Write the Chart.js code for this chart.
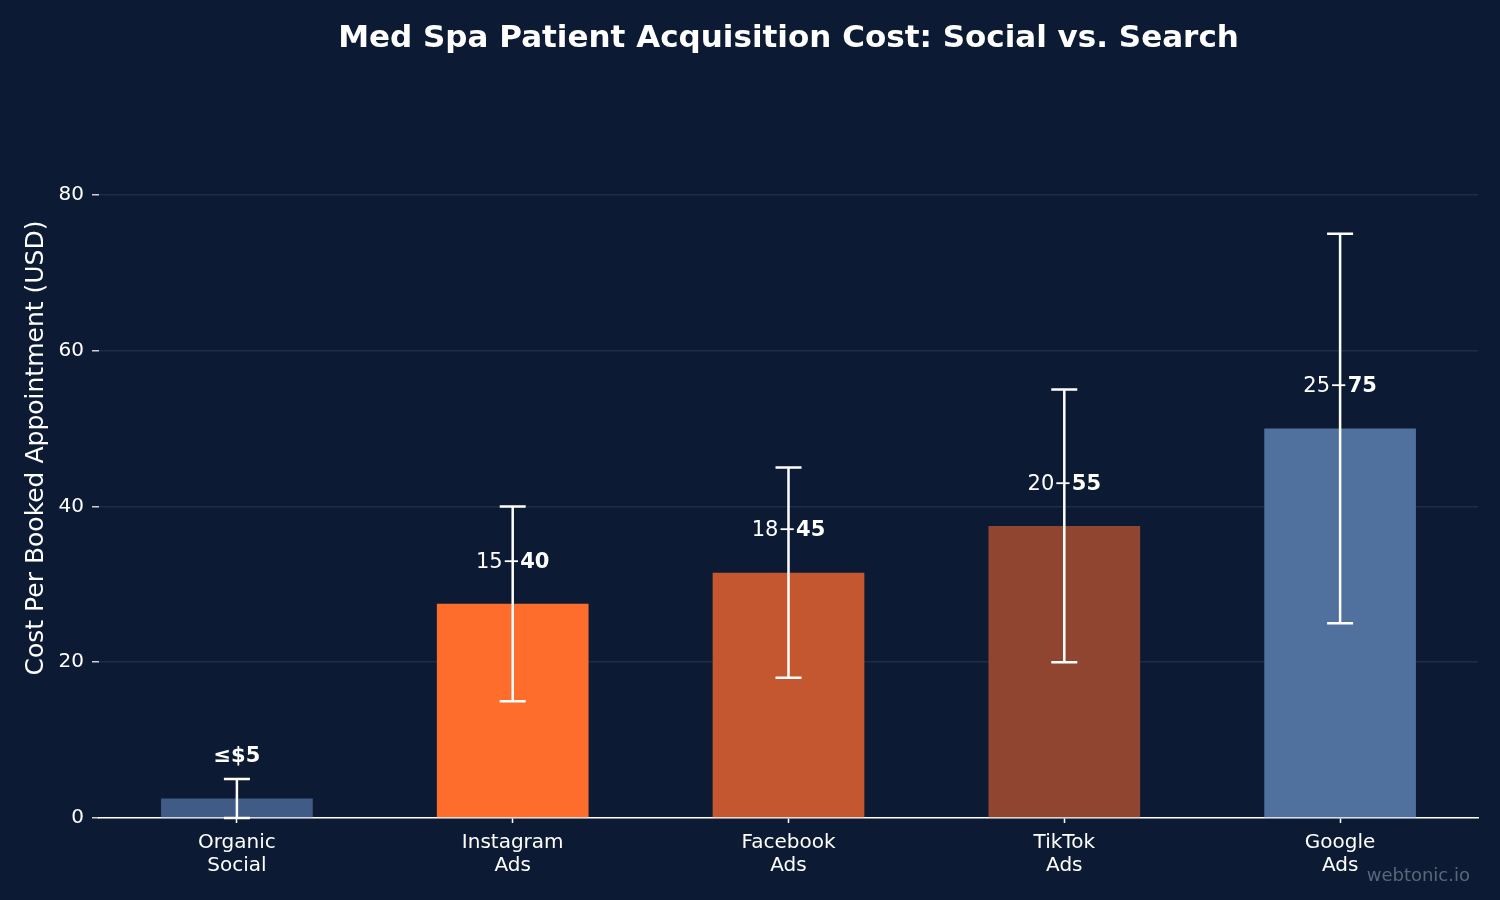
<!DOCTYPE html>
<html>
<head>
<meta charset="utf-8">
<script src="https://cdn.jsdelivr.net/npm/chart.js@4"></script>
<style>
  html, body { margin: 0; padding: 0; background: #0c1b33; }
  #wrap { width: 1500px; height: 900px; }
</style>
</head>
<body>
<div id="wrap"><canvas id="cpaChart" width="1500" height="900"></canvas></div>
<script>
// channel data (cost per booked appointment, USD)
var channels = [["Organic", "Social"], ["Instagram", "Ads"], ["Facebook", "Ads"], ["TikTok", "Ads"], ["Google", "Ads"]];
var lowCost = [0, 15, 18, 20, 25];
var highCost = [5, 40, 45, 55, 75];
var barValue = [2.5, 27.5, 31.5, 37.5, 50];
var yTicks = [0, 20, 40, 60, 80];

var chartTitle = "Med Spa Patient Acquisition Cost: Social vs. Search";
var barColors = ["#405c86", "#ff6d2d", "#c4572f", "#8f4530", "#50709e"];
var bgColor = "#0c1b33";
var font = "'DejaVu Sans', sans-serif";

// error bars + range labels drawn over the bars
var rangePlugin = {
    id: "rangePlugin",
    afterDatasetsDraw: function (chart) {
        var ctx = chart.ctx;
        var xs = chart.scales.x;
        var ys = chart.scales.y;
        ctx.save();
        ctx.strokeStyle = "#ffffff";
        ctx.lineWidth = 2.5;
        for (var i = 0; i < barValue.length; i++) {
            var x = xs.getPixelForValue(i);
            var yLo = ys.getPixelForValue(lowCost[i]);
            var yHi = ys.getPixelForValue(highCost[i]);
            ctx.beginPath();
            ctx.moveTo(x, yLo);
            ctx.lineTo(x, yHi);
            ctx.moveTo(x - 13, yLo);
            ctx.lineTo(x + 13, yLo);
            ctx.moveTo(x - 13, yHi);
            ctx.lineTo(x + 13, yHi);
            ctx.stroke();

            // label sits a bit above the bar top
            var ly = ys.getPixelForValue(barValue[i] + 4) - 5;
            ctx.fillStyle = "#ffffff";
            ctx.textBaseline = "alphabetic";
            ctx.textAlign = "left";
            if (lowCost[i] === 0) {
                ctx.font = "bold 21px " + font;
                var t = "\u2264$" + highCost[i];
                var w = ctx.measureText(t).width;
                ctx.fillText(t, x - w / 2, ly);
            } else {
                var a = lowCost[i] + "\u2212";
                var b = "" + highCost[i];
                ctx.font = "21px " + font;
                var wa = ctx.measureText(a).width;
                ctx.font = "bold 21px " + font;
                var wb = ctx.measureText(b).width;
                var sx = x - (wa + wb) / 2;
                ctx.font = "21px " + font;
                ctx.fillText(a, sx, ly);
                ctx.font = "bold 21px " + font;
                ctx.fillText(b, sx + wa, ly);
            }
        }
        ctx.restore();
    },
    afterDraw: function (chart) {
        var ctx = chart.ctx;
        var area = chart.chartArea;
        ctx.save();
        // title centred over the plot area
        ctx.font = "bold 31px " + font;
        ctx.fillStyle = "#ffffff";
        ctx.textAlign = "center";
        ctx.textBaseline = "alphabetic";
        ctx.fillText(chartTitle, (area.left + area.right) / 2, 47);

        ctx.font = "18px " + font;
        ctx.fillStyle = "#5c6679";
        ctx.textAlign = "right";
        ctx.fillText("webtonic.io", 1470, 881);
        ctx.restore();
    }
};

var bgPlugin = {
    id: "bgPlugin",
    beforeDraw: function (chart) {
        var ctx = chart.ctx;
        ctx.save();
        ctx.fillStyle = bgColor;
        ctx.fillRect(0, 0, chart.width, chart.height);
        ctx.restore();
    }
};

function barChart(context) {
    return new Chart(context, {
        type: "bar",
        data: {
            labels: channels,
            datasets: [
                {
                    data: barValue,
                    backgroundColor: barColors,
                    barPercentage: 0.55,
                    categoryPercentage: 1.0
                }
            ]
        },
        options: {
            responsive: false,
            animation: false,
            devicePixelRatio: 1,
            layout: { padding: { left: 0, right: 22, top: 78, bottom: 0 } },
            plugins: {
                legend: { display: false },
                tooltip: { enabled: false },
                title: { display: false }
            },
            scales: {
                x: {
                    grid: {
                        display: true,
                        drawOnChartArea: false,
                        offset: false,
                        tickLength: 5,
                        tickColor: "#ffffff",
                        tickWidth: 1.5
                    },
                    border: { display: true, color: "#ffffff", width: 1.5 },
                    ticks: {
                        color: "#ffffff",
                        font: { family: font, size: 20, lineHeight: 1.15 },
                        padding: 8,
                        maxRotation: 0
                    },
                    afterFit: function (scale) { scale.height = 82; }
                },
                y: {
                    min: 0,
                    max: 95,
                    afterBuildTicks: function (scale) {
                        scale.ticks = yTicks.map(function (v) { return { value: v }; });
                    },
                    grid: {
                        color: function (c) { return c.tick && c.tick.value === 0 ? "rgba(0,0,0,0)" : "#1e2d45"; },
                        lineWidth: 1.5,
                        tickLength: 7,
                        tickColor: "#d0d0d0",
                        tickWidth: 1.5
                    },
                    border: { display: false },
                    ticks: {
                        color: "#ffffff",
                        font: { family: font, size: 20 },
                        padding: 8
                    },
                    title: {
                        display: true,
                        text: "Cost Per Booked Appointment (USD)",
                        color: "#ffffff",
                        font: { family: font, size: 25 },
                        padding: { top: 21, bottom: 0 }
                    },
                    afterFit: function (scale) { scale.width = 99; }
                }
            }
        },
        plugins: [bgPlugin, rangePlugin]
    });
}

barChart(document.getElementById("cpaChart").getContext("2d"));
</script>
</body>
</html>
